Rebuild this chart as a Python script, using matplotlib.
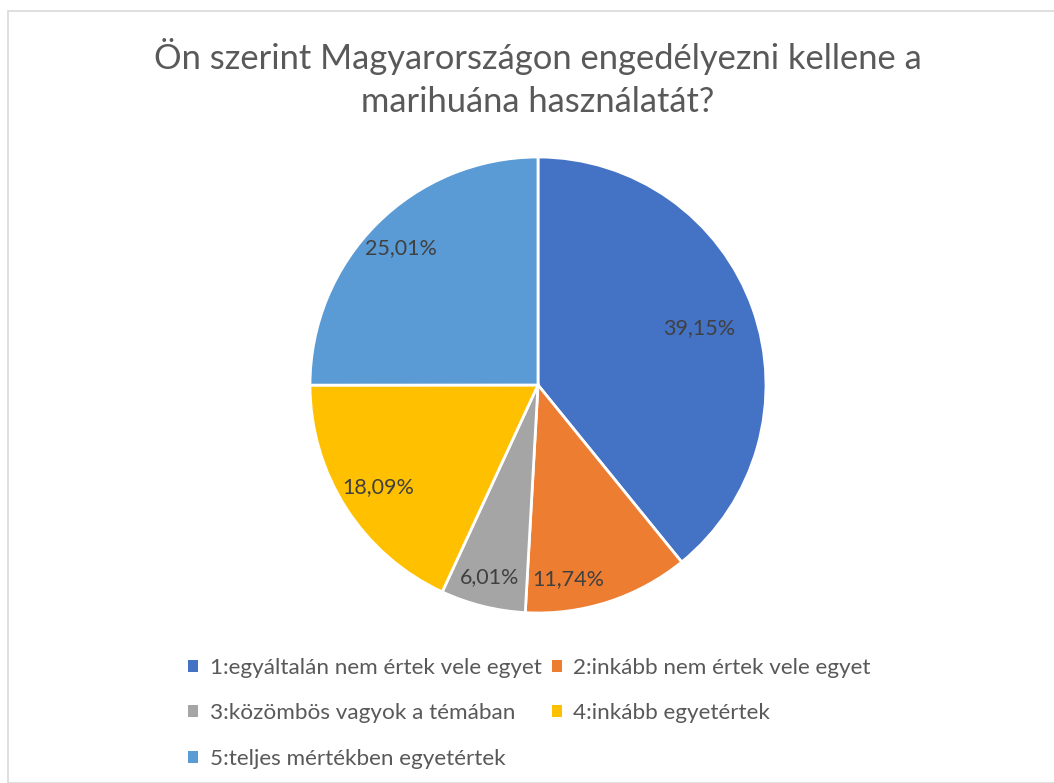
import numpy as np
import matplotlib
matplotlib.use("Agg")
import matplotlib.pyplot as plt
from matplotlib.patches import Patch, Rectangle

plt.rcParams['font.family'] = ['Lato', 'DejaVu Sans']

# data
labels = ['1:egyáltalán nem értek vele egyet', '2:inkább nem értek vele egyet',
          '3:közömbös vagyok a témában', '4:inkább egyetértek',
          '5:teljes mértékben egyetértek']
values = [39.15, 11.74, 6.01, 18.09, 25.01]
pct_text = ['39,15%', '11,74%', '6,01%', '18,09%', '25,01%']
colors = ['#4472C4', '#ED7D31', '#A5A5A5', '#FFC000', '#5B9BD5']

# label placement (excel best fit look)
lab_dist = [0.75, 0.86, 0.87, 0.83, 0.85]
lab_shift = [0, -9, 0, 0, 0]

W, H = 1054, 783
fig = plt.figure(figsize=(W/100, H/100), dpi=100)

fig.patches.append(Rectangle((8/W, 0), 1.2, 1 - 11/H, transform=fig.transFigure,
                             fill=False, edgecolor='#d9d9d9', linewidth=1.2))

fig.text(538/W, 1 - 78/H, 'Ön szerint Magyarországon engedélyezni kellene a\nmarihuána használatát?',
         ha='center', va='center', fontsize=24.8, color='#595959', linespacing=1.45)

ax = fig.add_axes([310/W, 1 - 613/H, 456/W, 456/H])
wedges, _ = ax.pie(values, colors=colors, startangle=90, counterclock=False,
                   wedgeprops=dict(edgecolor='white', linewidth=2))
ax.set_xlim(-1, 1)
ax.set_ylim(-1, 1)
ax.set_aspect('equal')
ax.axis('off')

for w, t, d, s in zip(wedges, pct_text, lab_dist, lab_shift):
    ang = np.deg2rad((w.theta1 + w.theta2) / 2 + s)
    ax.text(d*np.cos(ang), d*np.sin(ang), t, ha='center', va='center',
            fontsize=15.5, color='#404040')

handles = [Patch(facecolor=c, edgecolor='none') for c in colors]
order = [0, 2, 4, 1, 3]
fig.legend([handles[i] for i in order], [labels[i] for i in order], ncol=2,
           loc='upper left', bbox_to_anchor=(177/W, 1 - 647/H), frameon=False,
           fontsize=16.2, labelcolor='#595959', handlelength=0.45, handleheight=0.45,
           handletextpad=0.5, columnspacing=0.45, labelspacing=1.12, borderpad=0)

fig.savefig('out.png', dpi=100)
